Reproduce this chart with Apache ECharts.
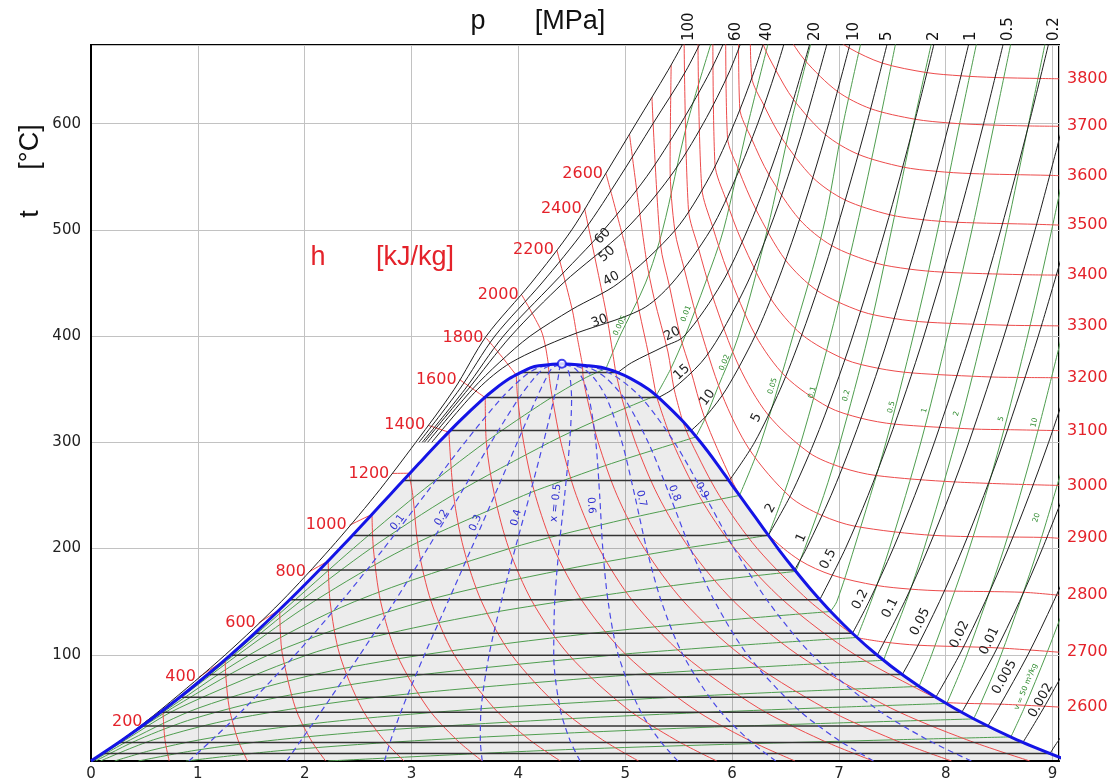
<!DOCTYPE html>
<html><head><meta charset="utf-8">
<script src="https://cdn.jsdelivr.net/npm/echarts@6.0.0/dist/echarts.min.js"></script>
<style>html,body{margin:0;padding:0;background:#fff}#c{width:1113px;height:783px}</style>
</head><body><div id="c"></div>
<script>
// ---------------- axes ----------------
const X_MAX = 9.06, Y_MAX = 674;
const xTickLabels = [0,1,2,3,4,5,6,7,8,9];
const yTickLabels = [100,200,300,400,500,600];

// ---------------- saturation dome (t, s', s'') ----------------
const satT    = [0.01,20,40,60,80,100,120,140,160,180,200,220,240,260,280,300,320,340,350,360,366,370,372,373.95];
const satSLiq = [0,0.2965,0.5724,0.8313,1.0756,1.3072,1.5279,1.7392,1.9426,2.1392,2.3305,2.5178,2.7015,2.8848,3.0689,3.2552,3.4494,3.6601,3.7784,3.9167,4.03,4.1112,4.19,4.407];
const satSVap = [9.1555,8.666,8.2555,7.908,7.6111,7.3541,7.1291,6.9297,6.7502,6.5853,6.4302,6.2861,6.1423,5.9978,5.8571,5.7059,5.5372,5.3356,5.2177,5.0527,4.92,4.7996,4.66,4.407];
const criticalPoint = [4.407,373.95];

// ---------------- isobars: horizontal part in the dome [p, s', s'', tsat] ----------------
const isobarSat = [
 ['0.001',0.1059,8.9749,6.97],['0.002',0.2606,8.7227,17.5],['0.005',0.4763,8.3939,32.88],['0.01',0.6492,8.1488,45.81],
 ['0.02',0.8320,7.9073,60.06],['0.05',1.0912,7.5931,81.32],['0.1',1.3028,7.3588,99.61],['0.2',1.5302,7.1270,120.21],
 ['0.5',1.8604,6.8207,151.83],['1',2.1381,6.5850,179.88],['2',2.4468,6.3390,212.38],['5',2.9207,5.9737,263.94],
 ['10',3.3603,5.6159,311.0],['15',3.6848,5.3108,342.16],['20',4.0146,4.9314,365.75]
];
// superheated / supercritical parts [s, t]
const ib0_001 = [[8.975,6.97],[9.06,20],[9.25,45]];
const ib0_002 = [[8.7227,17.5],[8.917,50],[9.192,100]];
const ib0_005 = [[8.3939,32.88],[8.494,50],[8.769,100],[9.009,150],[9.226,200]];
const ib0_01  = [[8.1488,45.81],[8.1741,50],[8.4489,100],[8.6893,150],[8.9049,200],[9.1015,250]];
const ib0_02  = [[7.9073,60.06],[8.129,100],[8.369,150],[8.585,200],[8.781,250],[8.963,300],[9.13,350]];
const ib0_05  = [[7.5931,81.32],[7.6953,100],[7.9413,150],[8.1592,200],[8.3568,250],[8.5387,300],[8.8659,400],[9.1566,500]];
const ib0_1   = [[7.3588,99.61],[7.6148,150],[7.8356,200],[8.0346,250],[8.2172,300],[8.5452,400],[8.8362,500],[9.0999,600]];
const ib0_2   = [[7.1270,120.21],[7.2810,150],[7.5081,200],[7.7100,250],[7.8941,300],[8.2236,400],[8.5153,500],[8.7793,600],[9.0221,700]];
const ib0_5   = [[6.8207,151.83],[7.0610,200],[7.2725,250],[7.4614,300],[7.6346,350],[7.7956,400],[8.0893,500],[8.3544,600],[8.5978,700]];
const ib1     = [[6.5850,179.88],[6.6956,200],[6.9265,250],[7.1246,300],[7.3029,350],[7.4670,400],[7.7642,500],[8.0311,600],[8.2755,700]];
const ib2     = [[6.3390,212.38],[6.5475,250],[6.7684,300],[6.9583,350],[7.1292,400],[7.4337,500],[7.7043,600],[7.9509,700]];
const ib5     = [[5.9737,263.94],[6.2110,300],[6.4516,350],[6.6483,400],[6.8210,450],[6.9781,500],[7.2605,600],[7.5136,700]];
const ib10    = [[5.6159,311.0],[5.7596,325],[5.9460,350],[6.2141,400],[6.4219,450],[6.5995,500],[6.7585,550],[6.9045,600],[7.1696,700]];
const ib15    = [[5.3108,342.16],[5.4438,350],[5.71,375],[5.8819,400],[6.1434,450],[6.3480,500],[6.5230,550],[6.6796,600],[6.9573,700]];
const ib20    = [[4.9314,365.75],[5.06,375],[5.36,390],[5.5525,400],[5.9043,450],[6.1446,500],[6.3390,550],[6.5075,600],[6.7990,700]];
const ib30    = [[3.19,300],[3.62,350],[3.93,375],[4.47,400],[5.15,425],[5.44,450],[5.80,500],[6.04,550],[6.24,600],[6.41,650],[6.56,700]];
const ib40    = [[3.15,300],[3.57,350],[3.82,375],[4.11,400],[4.50,425],[4.94,450],[5.47,500],[5.79,550],[6.02,600],[6.21,650],[6.37,700]];
const ib50    = [[3.12,300],[3.53,350],[3.93,400],[4.42,450],[5.0,500],[5.42,550],[5.73,600],[5.98,650],[6.17,700]];
const ib60    = [[3.10,300],[3.50,350],[3.86,400],[4.33,450],[4.80,500],[5.20,550],[5.52,600],[5.80,650],[6.03,700]];
const ib80    = [[3.07,300],[3.45,350],[3.78,400],[4.22,450],[4.62,500],[4.95,550],[5.26,600],[5.57,650],[5.82,700]];
const ib100   = [[0,0],[0.29,20],[0.674,50],[1.257,100],[1.78,150],[2.24,200],[2.66,250],[3.04,300],[3.40,350],[3.70,400],[4.12,450],[4.50,500],[4.80,550],[5.10,600],[5.40,650],[5.62,690]];
const isobarCurves = [['0.001',ib0_001],['0.002',ib0_002],['0.005',ib0_005],['0.01',ib0_01],['0.02',ib0_02],['0.05',ib0_05],
 ['0.1',ib0_1],['0.2',ib0_2],['0.5',ib0_5],['1',ib1],['2',ib2],['5',ib5],['10',ib10],['15',ib15],['20',ib20],
 ['30',ib30],['40',ib40],['50',ib50],['60',ib60],['80',ib80],['100',ib100]];
// inline isobar labels [text, s, t] and top-edge labels [text, s]
const isobarLabels = [['60',4.79,494],['50',4.83,477],['40',4.87,454],['30',4.76,414],['20',5.44,402],['15',5.53,366],['10',5.77,342],
 ['5',6.23,323],['2',6.36,238],['1',6.65,210],['0.5',6.90,190],['0.2',7.20,152],['0.1',7.48,144],['0.05',7.76,131],
 ['0.02',8.13,119],['0.01',8.41,113],['0.005',8.55,79],['0.002',8.89,57]];
const topLabels = [['100',5.595],['60',6.036],['40',6.326],['20',6.776],['10',7.141],['5',7.451],['2',7.891],['1',8.238],['0.5',8.585],['0.2',9.016]];

// ---------------- isenthalps (segments of [s, t]) ----------------
const h200  = [[[0.51,37],[0.673,47.8]],[[0.673,47.8],[0.692,20],[0.732,0.01]]];
const h400  = [[[1.01,79],[1.255,95.4]],[[1.255,95.4],[1.262,80],[1.294,50],[1.375,20],[1.465,0.01]]];
const h600  = [[[1.57,130],[1.766,142.6]],[[1.766,142.6],[1.773,120],[1.792,100],[1.913,50],[2.057,20],[2.196,0.01]]];
const h800  = [[[2.04,178],[2.220,188.3]],[[2.220,188.3],[2.238,150],[2.328,100],[2.532,50],[2.739,20],[2.929,0.01]]];
const h1000 = [[[2.42,222],[2.630,232.2]],[[2.630,232.2],[2.643,200],[2.711,150],[2.864,100],[3.151,50],[3.422,20],[3.661,0.01]]];
const h1200 = [[[2.82,270.7],[2.976,270.9]],[[2.976,270.9],[3.012,250],[3.065,200],[3.184,150],[3.399,100],[3.77,50],[4.104,20],[4.393,0.01]]];
const h1400 = [[[3.155,316],[3.35,309.5]],[[3.35,309.5],[3.394,250],[3.488,200],[3.656,150],[3.936,100],[4.389,50],[4.786,20],[5.125,0.01]]];
const h1600 = [[[3.45,359],[3.69,342]],[[3.69,342],[3.700,300],[3.777,250],[3.911,200],[4.130,150],[4.472,100],[5.007,50],[5.469,20],[5.857,0.01]]];
const h1800 = [[[3.70,398],[3.85,380],[3.98,363.2]],[[3.98,363.2],[3.995,340],[4.049,300],[4.159,250],[4.333,200],[4.602,150],[5.008,100],[5.626,50],[6.15,20],[6.589,0.01]]];
const h2000 = [[[4.03,439],[4.21,406],[4.25,392],[4.28,374]],[[4.28,374],[4.291,360],[4.321,340],[4.398,300],[4.542,250],[4.756,200],[5.075,150],[5.544,100],[6.245,50],[6.833,20],[7.321,0.01]]];
const h2200 = [[[4.36,481],[4.504,425],[4.544,402.6],[4.60,373]],[[4.60,373],[4.608,360],[4.647,340],[4.747,300],[4.924,250],[5.179,200],[5.548,150],[6.079,100],[6.864,50],[7.515,20],[8.054,0.01]]];
const h2400 = [[[4.62,520],[4.784,440.9],[4.837,413.4],[4.91,366.5]],[[4.91,366.5],[4.925,360],[4.973,340],[5.095,300],[5.306,250],[5.602,200],[6.019,150],[6.616,100],[7.483,50],[8.197,20],[8.786,0.01]]];
const h2600 = [[[4.82,553],[5.06,461],[5.13,424],[5.22,382],[5.29,344]],[[5.29,344],[5.444,300],[5.689,250],[6.024,200],[6.493,150],[7.152,100],[7.991,55]],[[7.991,55],[8.195,54.2],[8.515,53.5],[9.06,50.8]]];
const h2700 = [[[5.04,590],[5.195,473.6],[5.271,435.3],[5.40,385],[5.455,351.3],[5.537,320]],[[5.537,320],[5.618,300],[5.880,250],[6.236,200],[6.730,150],[7.17,116]],[[7.17,116],[7.422,112],[7.739,109],[8.48,106.5],[9.06,102.4]]];
const h2800 = [[[5.25,625],[5.33,486.4],[5.413,447.5],[5.52,398],[5.61,368.9],[5.742,323.3],[5.99,265.5],[6.075,250],[6.142,240],[6.341,213],[6.634,188.9],[6.936,175],[7.350,165.3],[7.667,161.8],[7.985,160.1],[8.727,158.8],[9.06,156]]];
const h2900 = [[[5.43,655],[5.42,560],[5.465,499],[5.548,465],[5.672,417],[5.907,344.7],[6.164,293],[6.54,249],[6.84,231.2],[7.15,221],[7.885,212.4],[8.946,210.4],[9.06,209.6]]];
const h3000 = [[[5.55,690],[5.592,518.9],[5.682,483.9],[5.817,437.6],[6.063,372],[6.336,326],[6.724,290],[7.030,276.2],[7.344,268.8],[8.081,262.7],[9.06,259.4]]];
const h3100 = [[[5.68,690],[5.717,539],[5.815,503.9],[5.957,461],[6.218,400.9],[6.499,362.1],[6.896,333.4],[7.206,322.7],[7.521,317.1],[8.258,312.5],[8.578,311.9],[9.06,311]]];
const h3200 = [[[5.82,690],[5.84,561.7],[5.939,529.6],[6.092,489],[6.361,435.4],[6.653,401.4],[7.055,378.1],[7.367,369.7],[7.684,365.3],[8.419,361.5],[8.739,361],[9.06,360.8]]];
const h3300 = [[[5.94,690],[5.957,587.1],[6.063,556.1],[6.221,519.6],[6.499,471.7],[6.796,442.9],[7.201,423.5],[7.516,416.5],[7.834,413],[8.575,410.2],[8.894,409.8],[9.06,409.6]]];
const h3400 = [[[6.06,690],[6.072,614.5],[6.182,586],[6.345,551.9],[6.631,509.8],[6.932,485.2],[7.339,468.9],[7.655,463.1],[7.972,460.2],[8.713,457.8],[9.06,457.4]]];
const h3500 = [[[6.17,690],[6.184,643.7],[6.297,617.5],[6.463,586.7],[6.756,549.2],[7.058,528.1],[7.472,514.3],[7.790,509.5],[8.108,507.1],[8.850,505.2],[9.06,504.5]]];
const h3600 = [[[6.27,690],[6.29,674.8],[6.409,650.4],[6.574,622.8],[6.874,589.6],[7.179,571.2],[7.594,559.2],[7.911,555.1],[8.230,553],[8.971,551.3],[9.06,551]]];
const h3700 = [[[6.49,690],[6.513,684.4],[6.681,659.7],[6.985,630.4],[7.296,614.1],[7.714,604.1],[8.033,600.6],[8.351,598.9],[8.773,597.8],[9.06,597.5]]];
const h3800 = [[[6.88,690],[6.915,684.7],[7.094,671.3],[7.405,657],[7.823,648],[8.141,645],[8.460,643.4],[8.882,642.5],[9.06,642.2]]];
const isenthalps = [['200',h200],['400',h400],['600',h600],['800',h800],['1000',h1000],['1200',h1200],['1400',h1400],['1600',h1600],
 ['1800',h1800],['2000',h2000],['2200',h2200],['2400',h2400],['2600',h2600],['2700',h2700],['2800',h2800],['2900',h2900],
 ['3000',h3000],['3100',h3100],['3200',h3200],['3300',h3300],['3400',h3400],['3500',h3500],['3600',h3600],['3700',h3700],['3800',h3800]];
const hLeftLabeled  = ['200','400','600','800','1000','1200','1400','1600','1800','2000','2200','2400','2600'];
const hRightLabeled = ['2600','2700','2800','2900','3000','3100','3200','3300','3400','3500','3600','3700','3800'];

// ---------------- isochores (dome part, superheated part) ----------------
const v0_005 = [[[0,0.01],[0.705,50],[1.321,100],[1.892,150],[2.454,200],[3.045,250],[3.69,300],[4.275,340],[4.614,360],[4.82,369.5]],[[4.82,369.5],[4.95,400],[5.19,450],[5.35,500],[5.58,600],[5.88,700]]];
const v0_01  = [[[0,0.01],[0.708,50],[1.34,100],[1.955,150],[2.617,200],[3.38,250],[4.294,300],[4.717,320],[5.19,340],[5.29,344]],[[5.29,344],[5.43,370],[5.56,400],[5.75,450],[5.92,500],[6.15,600],[6.40,700]]];
const v0_02  = [[[0.001,0.01],[0.71,50],[1.376,100],[2.083,150],[2.94,200],[4.05,250],[4.31,260],[4.87,280],[5.50,300],[5.66,305]],[[5.66,305],[5.76,325],[5.86,350],[6.06,400],[6.33,500],[6.55,600],[6.80,700]]];
const v0_05  = [[[0.002,0.01],[0.734,50],[1.484,100],[2.466,150],[3.917,200],[4.89,225],[5.57,240],[6.07,250]],[[6.07,250],[6.27,300],[6.57,400],[6.85,500],[7.04,600],[7.26,700]]];
const v0_1   = [[[0.004,0.01],[0.764,50],[1.666,100],[3.10,150],[4.42,180],[5.54,200],[5.863,205],[6.34,212.5]],[[6.34,212.5],[6.48,250],[6.645,300],[6.92,400],[7.16,500],[7.377,600],[7.58,700]]];
const v0_2   = [[[0.009,0.01],[0.325,20],[0.826,50],[2.027,100],[2.78,120],[3.77,140],[5.07,160],[5.832,170],[6.596,178.5]],[[6.596,178.5],[6.68,200],[6.858,250],[7.011,300],[7.274,400],[7.493,500],[7.70,600],[7.92,700]]];
const v0_5   = [[[0.022,0.01],[0.369,20],[1.01,50],[2.033,80],[3.113,100],[4.667,120],[5.67,130],[6.224,135],[6.92,140.7]],[[6.92,140.7],[6.98,150],[7.142,200],[7.441,300],[7.696,400],[7.925,500],[8.130,600],[8.34,700]]];
const v1     = [[[0.044,0.01],[0.441,20],[0.966,40],[1.753,60],[2.993,80],[4.92,100],[5.544,105],[6.22,110],[7.17,116.3]],[[7.17,116.3],[7.30,150],[7.473,200],[7.767,300],[8.015,400],[8.245,500],[8.454,600],[8.66,700]]];
const v2     = [[[0.089,0.01],[0.586,20],[1.36,40],[2.678,60],[4.91,80],[5.666,85],[6.52,90],[7.42,94.8]],[[7.42,94.8],[7.437,100],[7.63,150],[7.797,200],[8.089,300],[8.342,400],[8.570,500],[8.776,600],[8.98,700]]];
const v5     = [[[0.222,0.01],[0.562,10],[1.021,20],[1.655,30],[2.54,40],[3.767,50],[5.45,60],[6.49,65],[7.75,70.2]],[[7.75,70.2],[7.868,100],[8.221,200],[8.513,300],[8.766,400],[8.992,500],[9.2,600]]];
const v10    = [[[0.444,0.01],[0.974,10],[1.745,20],[2.873,30],[4.51,40],[5.575,45],[6.83,50],[8.01,54.2]],[[8.01,54.2],[8.199,100],[8.545,200],[8.834,300],[9.086,400]]];
const v20    = [[[0.889,0.01],[1.797,10],[3.19,20],[5.31,30],[6.735,35],[8.26,39.6]],[[8.26,39.6],[8.309,50],[8.518,100],[8.864,200],[9.16,300]]];
const v50    = [[[2.22,0.01],[4.27,10],[5.717,15],[7.54,20],[8.61,22.7]],[[8.61,22.7],[8.735,50],[8.94,100],[9.13,150]]];
const isochores = [['0.005',v0_005],['0.01',v0_01],['0.02',v0_02],['0.05',v0_05],['0.1',v0_1],['0.2',v0_2],['0.5',v0_5],
 ['1',v1],['2',v2],['5',v5],['10',v10],['20',v20],['50',v50]];
const isochoreLabels = [['0.005',4.95,410],['0.01',5.57,421],['0.02',5.93,375],['0.05',6.38,353],['0.1',6.75,347],['0.2',7.07,344],
 ['0.5',7.49,333],['1',7.80,330],['2',8.10,327],['5',8.52,322],['10',8.83,318.6],['20',8.85,229],['50',8.75,70]];

// ---------------- quality lines x = 0.1 ... 0.9 ----------------
const qT = [0.01,20,50,100,150,200,250,300,340,360,370,373.95];
const q1 = [0.916,1.134,1.441,1.912,2.341,2.740,3.121,3.500,3.828,4.030,4.180,4.407];
const q2 = [1.831,1.970,2.178,2.517,2.841,3.150,3.449,3.745,3.995,4.144,4.249,4.407];
const q3 = [2.747,2.807,2.915,3.121,3.341,3.560,3.777,3.990,4.163,4.258,4.318,4.407];
const q4 = [3.662,3.644,3.652,3.726,3.840,3.970,4.105,4.235,4.330,4.371,4.387,4.407];
const q5 = [4.578,4.481,4.389,4.331,4.340,4.380,4.433,4.480,4.498,4.485,4.455,4.407];
const q6 = [5.493,5.318,5.127,4.935,4.840,4.790,4.761,4.725,4.665,4.599,4.524,4.407];
const q7 = [6.409,6.155,5.864,5.540,5.339,5.200,5.089,4.970,4.833,4.712,4.593,4.407];
const q8 = [7.324,6.992,6.601,6.145,5.839,5.610,5.417,5.215,5.000,4.826,4.662,4.407];
const q9 = [8.240,7.829,7.338,6.749,6.338,6.020,5.745,5.460,5.168,4.940,4.731,4.407];
const qualityLines = [['0.1',q1],['0.2',q2],['0.3',q3],['0.4',q4],['x = 0.5',q5],['0.6',q6],['0.7',q7],['0.8',q8],['0.9',q9]];
const qualityLabelPos = [[2.87,224.6],[3.28,229],[3.60,224],[3.98,229],[4.35,243],[4.68,240.6],[5.15,247],[5.46,252],[5.72,254.7]];

// ---------------- build ----------------
const RED='#ec4b4b', RED_T='#e4222a', GREEN='#4f9d4f', BLUE='#1414e6', BLUE_D='#4a4ae6', FONT='"DejaVu Sans", sans-serif';
const dome = satT.map((t,i)=>[satSLiq[i],t]).concat(satT.slice(0,-1).map((t,i)=>[satSVap[i],t]).reverse());

function line(data, color, width, z, opts){
  return Object.assign({type:'line', data, symbol:'none', showSymbol:false, smooth:0.3, silent:true, animation:false, clip:true,
    lineStyle:{color, width}, z}, opts||{});
}
const series = [];
series.push({type:'custom', coordinateSystem:'cartesian2d', data:[[0,0]], silent:true, clip:true, z:1, animation:false,
  renderItem:(p,api)=>({type:'polygon', shape:{points:dome.map(d=>api.coord(d)), smooth:0.2}, style:{fill:'rgba(0,0,0,0.075)'}})});
isochores.forEach(([v,segs])=>segs.forEach(seg=>series.push(line(seg, GREEN, 1, 2))));
isenthalps.forEach(([h,segs])=>segs.forEach(seg=>series.push(line(seg, RED, 1, 3))));
isobarSat.forEach(([p,sl,sv,t])=>series.push(line([[sl,t],[sv,t]], '#333', 1.5, 4, {smooth:false})));
isobarCurves.forEach(([p,d])=>series.push(line(d, '#1e1e1e', 1, 4)));
qualityLines.forEach(([x,arr])=>series.push(line(arr.map((s,i)=>[s,qT[i]]), BLUE_D, 1.2, 5, {lineStyle:{color:BLUE_D,width:1.2,type:[6,4]}})));
series.push(line(dome, BLUE, 3, 6, {smooth:0.3}));
series.push({type:'scatter', data:[criticalPoint], symbol:'circle', symbolSize:8, silent:true, z:7, animation:false,
  itemStyle:{color:'#fff', borderColor:BLUE, borderWidth:2}});

const option = {
  animation:false,
  backgroundColor:'#fff',
  grid:{left:91, right:54, top:45, bottom:22, show:true, borderColor:'#000', borderWidth:2, backgroundColor:'transparent', containLabel:false, outerBoundsMode:'none'},
  xAxis:{type:'value', min:0, max:X_MAX, interval:1,
    axisLine:{show:true, onZero:false, lineStyle:{color:'#000', width:2}}, axisTick:{show:false},
    axisLabel:{formatter:v=>xTickLabels.includes(v)?String(v):'', fontSize:15, color:'#222', fontFamily:FONT, margin:6, hideOverlap:false},
    splitLine:{show:true, lineStyle:{color:'#c2c2c2', width:1}}},
  yAxis:{type:'value', min:0, max:Y_MAX, interval:100,
    axisLine:{show:true, onZero:false, lineStyle:{color:'#000', width:2}}, axisTick:{show:false},
    axisLabel:{formatter:v=>yTickLabels.includes(v)?String(v):'', fontSize:15, color:'#222', fontFamily:FONT, margin:10, hideOverlap:false},
    splitLine:{show:true, lineStyle:{color:'#c2c2c2', width:1}}},
  series
};
const chart = echarts.init(document.getElementById('c'), null, {renderer:'canvas', width:1113, height:783});
chart.setOption(option);

// ---------------- text (positions derived from data coordinates) ----------------
const toPx = p => chart.convertToPixel({gridIndex:0}, p);
function distSeg(p,a,b){const dx=b[0]-a[0],dy=b[1]-a[1];const L=dx*dx+dy*dy;let u=L?((p[0]-a[0])*dx+(p[1]-a[1])*dy)/L:0;u=Math.max(0,Math.min(1,u));const x=a[0]+u*dx-p[0],y=a[1]+u*dy-p[1];return Math.hypot(x,y);}
function angleNear(curve,P){let best=1e9,ang=0;const pts=curve.map(toPx);for(let i=0;i<pts.length-1;i++){const d=distSeg(P,pts[i],pts[i+1]);if(d<best){best=d;ang=Math.atan2(pts[i][1]-pts[i+1][1],pts[i+1][0]-pts[i][0]);}}
  if(ang>Math.PI/2)ang-=Math.PI; if(ang<=-Math.PI/2)ang+=Math.PI; return ang;}
const g = [];
function txt(text,x,y,font,fill,align,valign,rot){g.push({type:'text',x,y,rotation:rot||0,silent:true,z:100,
  style:{text,font,fill,align:align||'center',verticalAlign:valign||'middle',textAlign:align||'center',textVerticalAlign:valign||'middle'}});}
// enthalpy labels
isenthalps.forEach(([h,segs])=>{
  if(hLeftLabeled.includes(h)){const P=toPx(segs[0][0]); txt(h,P[0]-3,P[1],'16px '+FONT,RED_T,'right','middle');}
  if(hRightLabeled.includes(h)){const last=segs[segs.length-1]; const P=toPx(last[last.length-1]); txt(h,P[0]+8,P[1],'16px '+FONT,RED_T,'left','middle');}
});
// isobar labels
const ibMap = {}; isobarCurves.forEach(([p,d])=>ibMap[p]=d);
isobarLabels.forEach(([p,s,t])=>{const P=toPx([s,t]); txt(p,P[0],P[1],'13px '+FONT,'#222','center','middle',angleNear(ibMap[p],P));});
topLabels.forEach(([p,s])=>{const P=toPx([s,Y_MAX]); txt(p,P[0],P[1]-4,'15px '+FONT,'#111','left','middle',Math.PI/2);});
// quality labels
qualityLines.forEach(([x,arr],i)=>{const P=toPx(qualityLabelPos[i]); txt(x,P[0],P[1],'10.5px '+FONT,'#2f2fd0','center','middle',angleNear(arr.map((s,k)=>[s,qT[k]]),P));});
// isochore labels
const vMap = {}; isochores.forEach(([v,segs])=>vMap[v]=segs[0].concat(segs[1]));
isochoreLabels.forEach(([v,s,t])=>{const P=toPx([s,t]); txt(v==='50'?'v = 50 m³/kg':v,P[0],P[1],'7.5px '+FONT,'#2d8a2d','center','middle',angleNear(vMap[v],P));});
// axis titles
const TF='27px "Liberation Sans", Arial, sans-serif';
txt('t',31,214,TF,'#111','center','middle',Math.PI/2);
txt('[°C]',31,147,TF,'#111','center','middle',Math.PI/2);
txt('p',478,22,TF,'#111','center','middle');
txt('[MPa]',570,22,TF,'#111','center','middle');
txt('h',318,258,TF,RED_T,'center','middle');
txt('[kJ/kg]',415,258,TF,RED_T,'center','middle');
chart.setOption({graphic:g});
</script></body></html>
